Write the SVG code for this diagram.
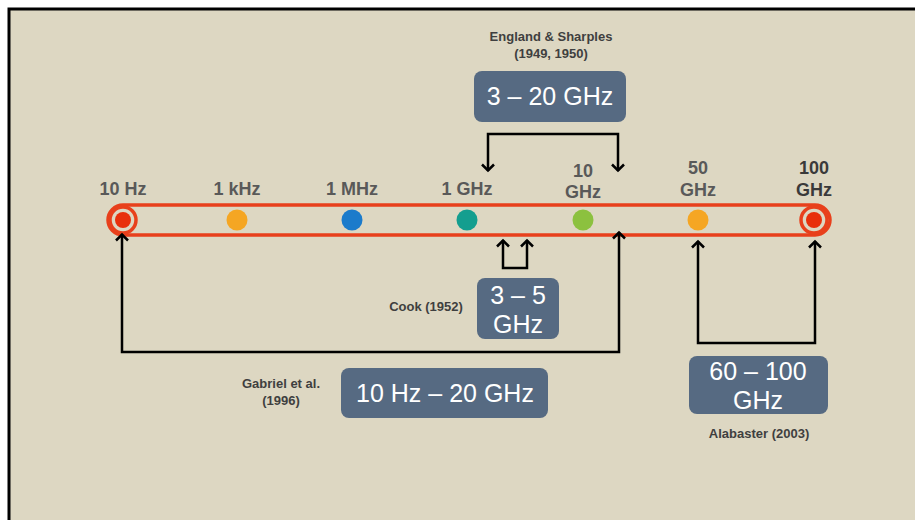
<svg xmlns="http://www.w3.org/2000/svg" width="915" height="520" viewBox="0 0 915 520">
<defs>
<marker id="arr" viewBox="0 0 14 14" refX="12" refY="7" markerWidth="14" markerHeight="14" markerUnits="userSpaceOnUse" orient="auto-start-reverse">
<path d="M5.5,1 L11.5,7 L5.5,13" fill="none" stroke="#000" stroke-width="2.5"/>
</marker>
<style>
.lbl{font-family:"Liberation Sans",Arial,sans-serif;font-weight:bold;font-size:18px;fill:#595959;text-anchor:middle}
.ref{font-family:"Liberation Sans",Arial,sans-serif;font-weight:bold;font-size:13px;fill:#3f3f3f;text-anchor:middle}
.box{fill:#566a82}
.bt{font-family:"Liberation Sans",Arial,sans-serif;font-size:25px;fill:#fff;text-anchor:middle}
.con{fill:none;stroke:#000;stroke-width:2.5}
</style>
</defs>
<rect x="0" y="0" width="915" height="520" fill="#fff"/>
<rect x="9" y="9" width="920" height="530" fill="#ddd7c2" stroke="#000" stroke-width="3"/>

<g id="bar">
<rect x="108" y="205" width="722" height="30" rx="15" fill="none" stroke="#e8401c" stroke-width="3.5"/>
</g>
<g id="n10hz">
<circle cx="123" cy="220" r="13" fill="none" stroke="#e8401c" stroke-width="3.5"/>
<circle cx="123" cy="220" r="8" fill="#e8300c"/>
<text class="lbl" x="123" y="195">10 Hz</text>
</g>
<g id="n1khz">
<circle cx="237" cy="220" r="10.5" fill="#f5a623"/>
<text class="lbl" x="237" y="195">1 kHz</text>
</g>
<g id="n1mhz">
<circle cx="352" cy="220" r="10.5" fill="#1b7bcb"/>
<text class="lbl" x="352" y="195">1 MHz</text>
</g>
<g id="n1ghz">
<circle cx="467" cy="220" r="10.5" fill="#149e8f"/>
<text class="lbl" x="467" y="195">1 GHz</text>
</g>
<g id="n10ghz">
<circle cx="583" cy="220" r="10.5" fill="#8cc13f"/>
<text class="lbl" x="583" y="177">10</text>
<text class="lbl" x="583" y="198">GHz</text>
</g>
<g id="n50ghz">
<circle cx="698" cy="220" r="10.5" fill="#f5a623"/>
<text class="lbl" x="698" y="174">50</text>
<text class="lbl" x="698" y="196">GHz</text>
</g>
<g id="n100ghz">
<circle cx="814" cy="220" r="13" fill="none" stroke="#e8401c" stroke-width="3.5"/>
<circle cx="814" cy="220" r="8" fill="#e8300c"/>
<text class="lbl" x="814" y="174" style="fill:#3a3a3a">100</text>
<text class="lbl" x="814" y="196" style="fill:#3a3a3a">GHz</text>
</g>

<g id="england">
<text class="ref" x="551" y="41">England &amp; Sharples</text>
<text class="ref" x="551" y="58">(1949, 1950)</text>
<rect class="box" x="474" y="71" width="152" height="51" rx="8"/>
<text class="bt" x="550" y="105">3 – 20 GHz</text>
</g>
<g id="cook">
<text class="ref" x="426" y="311">Cook (1952)</text>
<rect class="box" x="477" y="278" width="82" height="61" rx="8"/>
<text class="bt" x="518" y="304">3 – 5</text>
<text class="bt" x="518" y="333">GHz</text>
</g>
<g id="gabriel">
<text class="ref" x="281" y="388">Gabriel et al.</text>
<text class="ref" x="281" y="405">(1996)</text>
<rect class="box" x="341" y="368" width="207" height="50" rx="8"/>
<text class="bt" x="445" y="402">10 Hz – 20 GHz</text>
</g>
<g id="alabaster">
<rect class="box" x="689" y="356" width="139" height="58" rx="8"/>
<text class="bt" x="758" y="380">60 – 100</text>
<text class="bt" x="758" y="409">GHz</text>
<text class="ref" x="759" y="438">Alabaster (2003)</text>
</g>

<g id="connectors">
<path class="con" d="M488,171 V134 H618 V171" marker-start="url(#arr)" marker-end="url(#arr)"/>
<path class="con" d="M503,240 V268 H527 V240" marker-start="url(#arr)" marker-end="url(#arr)"/>
<path class="con" d="M122,234 V352 H619 V232" marker-start="url(#arr)" marker-end="url(#arr)"/>
<path class="con" d="M698,241 V343 H815 V241" marker-start="url(#arr)" marker-end="url(#arr)"/>
</g>
</svg>
